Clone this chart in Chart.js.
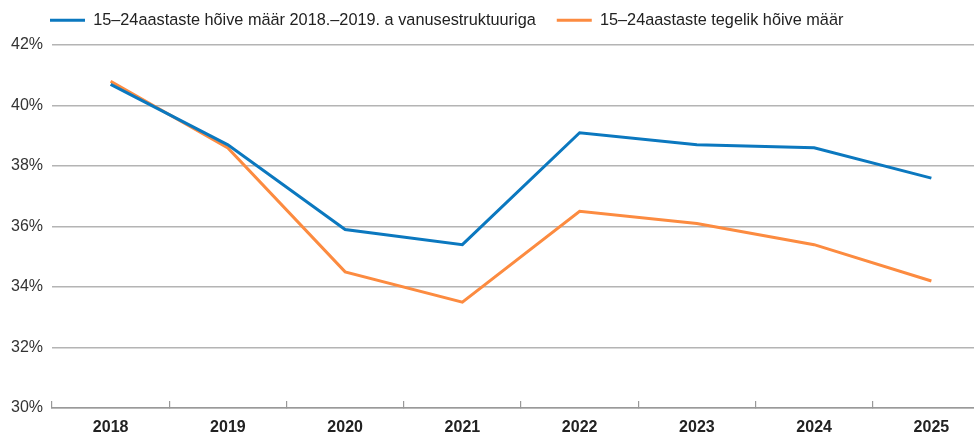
<!DOCTYPE html>
<html>
<head>
<meta charset="utf-8">
<script src="https://cdn.jsdelivr.net/npm/chart.js@4.4.1/dist/chart.umd.min.js"></script>
<style>
  html, body { margin: 0; padding: 0; overflow: hidden; background: #fff; }
  #wrap { position: relative; width: 990px; height: 435px; }
</style>
</head>
<body>
<div id="wrap"><canvas id="c"></canvas></div>
<script>
const categories = ['2018', '2019', '2020', '2021', '2022', '2023', '2024', '2025'];
const seriesAgeStructure = [40.7, 38.7, 35.9, 35.4, 39.1, 38.7, 38.6, 37.6];
const seriesActual = [40.8, 38.6, 34.5, 33.5, 36.5, 36.1, 35.4, 34.2];
const seriesNames = ['15–24aastaste hõive määr 2018.–2019. a vanusestruktuuriga', '15–24aastaste tegelik hõive määr'];
const yTicks = [30, 32, 34, 36, 38, 40, 42];

Chart.defaults.font.family = "'Liberation Sans', Arial, Helvetica, sans-serif";
Chart.defaults.font.size = 16;
Chart.defaults.color = '#333';

const legendPos = {
  id: 'legendPos',
  beforeInit(chart) {
    const lg = chart.legend;
    if (!lg) return;
    const f = lg.fit;
    lg.fit = function () { f.apply(this, arguments); this.height = 36; };
  },
  afterLayout(chart) {
    const lg = chart.legend;
    if (!lg) return;
    lg.left = 29;
    lg.top = -9;
  }
};

new Chart(document.getElementById('c'), {
  type: 'line',
  data: {
    labels: categories,
    datasets: [
      { label: seriesNames[0], data: seriesAgeStructure, borderColor: '#0b78bf', backgroundColor: '#0b78bf', borderWidth: 3, pointRadius: 0, tension: 0 },
      { label: seriesNames[1], data: seriesActual, borderColor: '#fc8b40', backgroundColor: '#fc8b40', borderWidth: 3, pointRadius: 0, tension: 0 }
    ]
  },
  options: {
    responsive: true,
    maintainAspectRatio: false,
    animation: false,
    layout: { padding: { left: 0, right: 0, top: 9, bottom: 0 } },
    plugins: {
      legend: {
        position: 'top',
        align: 'start',
        labels: {
          boxWidth: 35, boxHeight: 3, padding: 21, color: '#222', font: { size: 16.3 },
          generateLabels(chart) {
            return Chart.defaults.plugins.legend.labels.generateLabels(chart).map(l => Object.assign(l, { lineWidth: 0, fillStyle: l.strokeStyle }));
          }
        }
      },
      tooltip: { enabled: false }
    },
    scales: {
      x: {
        offset: true,
        grid: { display: true, drawOnChartArea: false, drawTicks: true, tickLength: -7, offset: true, color: '#999', lineWidth: 1.2 },
        border: { display: true, color: '#999', width: 1.5 },
        ticks: { color: '#222', padding: 17, font: { weight: 'bold', size: 16 }, maxRotation: 0 },
        afterFit(scale) { scale.height = 27; }
      },
      y: {
        min: 30, max: 42,
        afterBuildTicks(scale) { scale.ticks = yTicks.map(v => ({ value: v })); },
        grid: { color: '#b4b4b4', lineWidth: 1.5, drawTicks: false },
        border: { display: false },
        ticks: { color: '#333', padding: 9, font: { size: 16 }, callback: v => v + '%' },
        afterFit(scale) { scale.width = 52; }
      }
    }
  },
  plugins: [legendPos]
});
</script>
</body>
</html>
